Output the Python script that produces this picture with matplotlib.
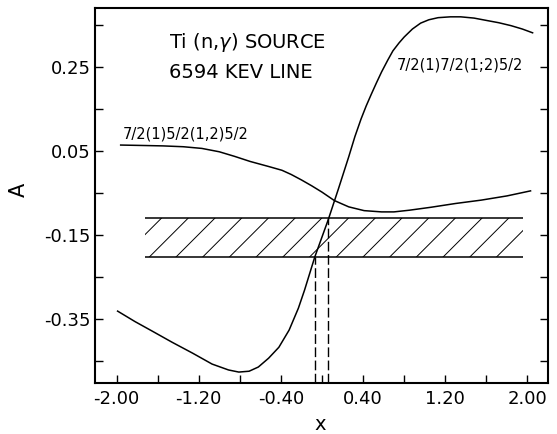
import numpy as np
import matplotlib
matplotlib.use("Agg")
import matplotlib.pyplot as plt
from matplotlib.patches import Rectangle

plt.rcParams['font.family'] = ['DejaVu Sans']
plt.rcParams['axes.unicode_minus'] = False

# ---- data ----
# curve 7/2(1)5/2(1,2)5/2
x1 = [-1.96, -1.75, -1.55, -1.35, -1.17, -1.00, -0.85, -0.70, -0.52, -0.39,
      -0.30, -0.20, -0.10, 0.00, 0.12, 0.26, 0.41, 0.58, 0.70, 0.85,
      1.06, 1.30, 1.55, 1.80, 2.03]
a1 = [0.064, 0.063, 0.062, 0.060, 0.056, 0.048, 0.037, 0.025, 0.013, 0.004,
      -0.006, -0.019, -0.033, -0.048, -0.068, -0.083, -0.092, -0.095, -0.095, -0.091,
      -0.084, -0.075, -0.067, -0.057, -0.045]

# curve 7/2(1)7/2(1;2)5/2
x2 = [-1.99, -1.82, -1.65, -1.46, -1.26, -1.07, -0.91, -0.81, -0.71, -0.62,
      -0.52, -0.42, -0.32, -0.23, -0.17, -0.07, 0.06, 0.16, 0.26, 0.32,
      0.38, 0.43, 0.48, 0.53, 0.58, 0.64, 0.69, 0.75, 0.80, 0.88,
      0.96, 1.04, 1.13, 1.25, 1.35, 1.48, 1.61, 1.72, 1.84, 1.95, 2.05]
a2 = [-0.331, -0.356, -0.379, -0.405, -0.431, -0.457, -0.471, -0.476, -0.474, -0.464,
      -0.443, -0.417, -0.376, -0.324, -0.281, -0.202, -0.114, -0.040, 0.036, 0.084,
      0.126, 0.157, 0.185, 0.212, 0.238, 0.266, 0.288, 0.307, 0.321, 0.340,
      0.354, 0.362, 0.367, 0.369, 0.369, 0.366, 0.360, 0.355, 0.348, 0.340, 0.331]

# experimental band (hatched) and crossing x values
band_x = [-1.72, 1.96]
band_a = [-0.202, -0.110]
x_cross = [-0.068, 0.060]

xticks_major = [-2.0, -1.2, -0.4, 0.4, 1.2, 2.0]
xtick_labels = ["-2.00", "-1.20", "-0.40", "0.40", "1.20", "2.00"]
xticks_minor = [-1.6, -0.8, 0.0, 0.8, 1.6]
yticks_major = [0.25, 0.05, -0.15, -0.35]
ytick_labels = ["0.25", "0.05", "-0.15", "-0.35"]
yticks_minor = [0.35, 0.15, -0.05, -0.25, -0.45]

label1 = "7/2(1)5/2(1,2)5/2"
label2 = "7/2(1)7/2(1;2)5/2"
title1 = "Ti (n,$\\gamma$) SOURCE"
title2 = "6594 KEV LINE"

# ---- figure ----
fig = plt.figure(figsize=(5.57, 4.34), dpi=100)
ax = fig.add_axes([95/557, 1-383/434, 453/557, 375/434])
ax.set_xlim(-2.21, 2.20)
ax.set_ylim(-0.502, 0.390)

ax.plot(x1, a1, color='black', lw=1.1)
ax.plot(x2, a2, color='black', lw=1.1)

# band edges
ax.hlines(band_a, band_x[0], band_x[1], color='black', lw=1.1)

# hatch lines (45 deg on screen), clipped to band
p0 = ax.transData.transform((0, 0))
p1 = ax.transData.transform((1, 1))
slope = (p1[0] - p0[0]) / (p1[1] - p0[1])  # data-y per data-x for 45 deg
dx_span = (band_a[1] - band_a[0]) / slope
clip = Rectangle((band_x[0], band_a[0]), band_x[1] - band_x[0],
                 band_a[1] - band_a[0], transform=ax.transData,
                 fill=False, visible=False)
ax.add_patch(clip)
spacing = 0.26
start = -1.68 - spacing * np.ceil((dx_span + 0.05) / spacing)
for xb in np.arange(start, band_x[1] + spacing, spacing):
    ln, = ax.plot([xb, xb + dx_span], [band_a[0], band_a[1]],
                  color='black', lw=0.7)
    ln.set_clip_path(clip)

# dashed crossing lines
ax.vlines([x_cross[0]], -0.502, band_a[0], colors='black', lw=1.0,
          linestyles=[(0, (7, 2.5))])
ax.vlines([x_cross[1]], -0.502, band_a[1], colors='black', lw=1.0,
          linestyles=[(0, (7, 2.5))])

# texts
ax.text(-1.49, 0.307, title1, fontsize=14, va='center', ha='left')
ax.text(-1.49, 0.236, title2, fontsize=14, va='center', ha='left')
ax.text(-1.94, 0.090, label1, fontsize=10.5, va='center', ha='left')
ax.text(0.73, 0.255, label2, fontsize=10.5, va='center', ha='left')

# ticks
ax.set_xticks(xticks_major, xtick_labels)
ax.set_xticks(xticks_minor, minor=True)
ax.set_yticks(yticks_major, ytick_labels)
ax.set_yticks(yticks_minor, minor=True)
ax.tick_params(which='both', direction='in', length=6, width=1.0,
               right=True, top=False, labelsize=13)
ax.tick_params(axis='x', pad=5)
ax.tick_params(axis='y', pad=3)

for s in ax.spines.values():
    s.set_linewidth(1.5)

ax.set_xlabel("x", fontsize=14)
ax.set_ylabel("A", fontsize=15)
ax.xaxis.set_label_coords(0.497, -0.085)
ax.yaxis.set_label_coords(-0.145, 0.515)

fig.savefig("out.png", dpi=100)
